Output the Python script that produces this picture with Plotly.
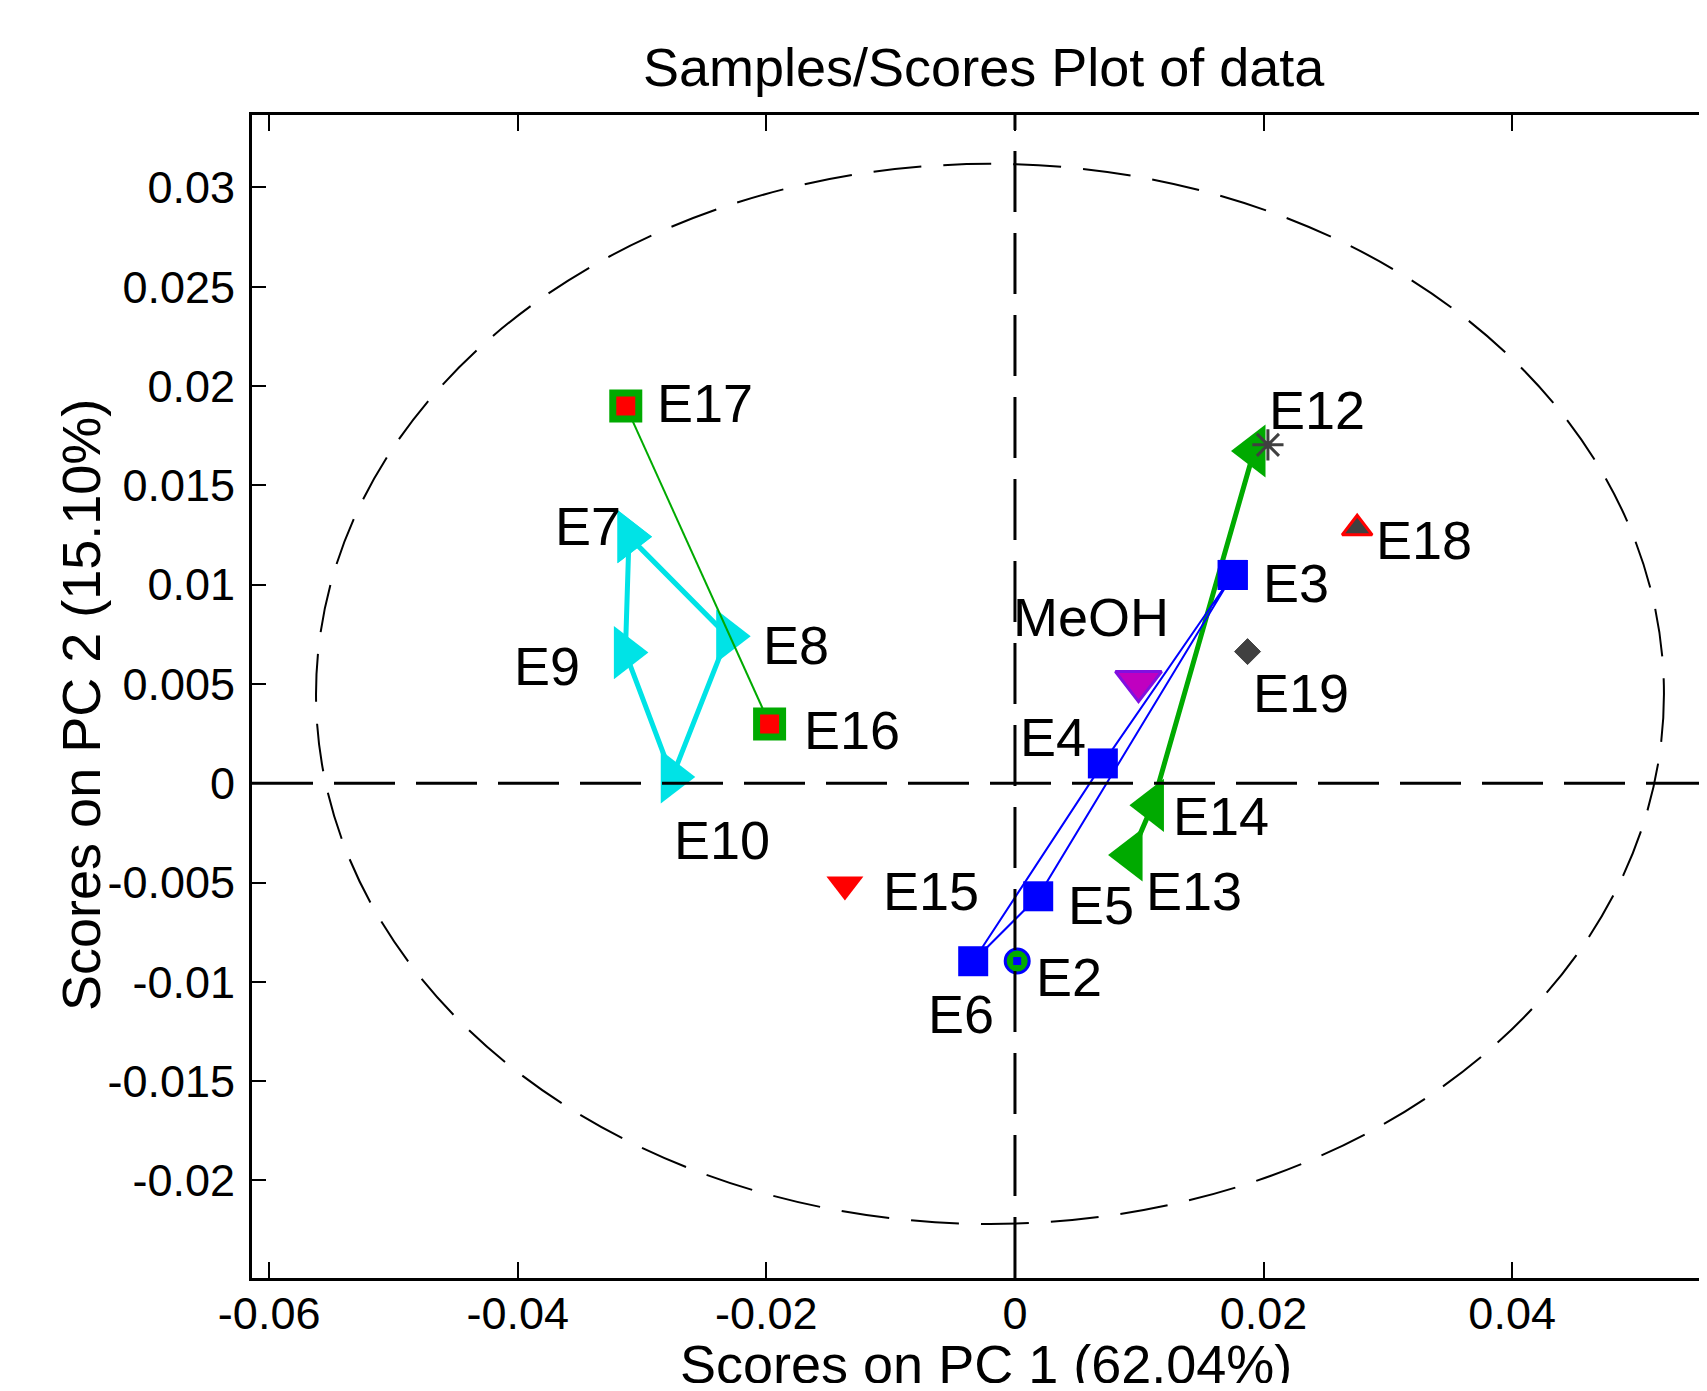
import plotly.graph_objects as go

FONT = "Liberation Sans, Arial, Helvetica, sans-serif"

# ---------------- data ----------------
cyan_names = ["E7", "E8", "E10", "E9"]
cyan_x = [-0.03105, -0.02311, -0.02757, -0.03134]
cyan_y = [0.01242, 0.00741, 0.00032, 0.00658]

green_names = ["E13", "E14", "E12"]
green_x = [0.00934, 0.01106, 0.01923]
green_y = [-0.00361, -0.00111, 0.01673]

blue_names = ["E3", "E4", "E6", "E5"]
blue_x = [0.01752, 0.00707, -0.00336, 0.00187]
blue_y = [0.01049, 0.00100, -0.00896, -0.00569]

red_names = ["E17", "E16"]
red_x = [-0.03131, -0.01974]
red_y = [0.01900, 0.00299]

e15_x, e15_y = [-0.01368], [-0.00509]
meoh_x, meoh_y = [0.00994], [0.00512]
e18_x, e18_y = [0.02753], [0.01284]
e19_x, e19_y = [0.01871], [0.00663]
e2_x, e2_y = [0.00018], [-0.00895]
star_x, star_y = [0.02035], [0.01704]

label_text = ["E17", "E7", "E8", "E9", "E16", "E10", "E15", "MeOH", "E12",
              "E18", "E3", "E19", "E4", "E14", "E13", "E5", "E2", "E6"]
label_x = [-0.02898, -0.03718, -0.02042, -0.04044, -0.01716, -0.02758, -0.01081,
           -0.00031, 0.02030, 0.02890, 0.01979, 0.01899, 0.00023, 0.01256,
           0.01041, 0.00412, 0.00157, -0.00714]
label_y = [0.01916, 0.01298, 0.00694, 0.00593, 0.00268, -0.00285, -0.00542,
           0.00837, 0.01880, 0.01227, 0.01007, 0.00455, 0.00232, -0.00165,
           -0.00542, -0.00613, -0.00975, -0.01162]

x_ticks = [-0.06, -0.04, -0.02, 0, 0.02, 0.04]
x_ticktext = ["-0.06", "-0.04", "-0.02", "0", "0.02", "0.04"]
y_ticks = [0.03, 0.025, 0.02, 0.015, 0.01, 0.005, 0, -0.005, -0.01, -0.015, -0.02]
y_ticktext = ["0.03", "0.025", "0.02", "0.015", "0.01", "0.005", "0",
              "-0.005", "-0.01", "-0.015", "-0.02"]

x_range = [-0.06138, 0.05503]
y_range = [-0.02491, 0.03365]

ellipse_cx, ellipse_cy = -0.00201, 0.0045
ellipse_rx, ellipse_ry = 0.05422, 0.02669

# ---------------- figure ----------------
CYAN = "#00E3E6"
GREEN = "#00AA00"
BLUE = "#0000FF"
RED = "#FF0000"
GRAY = "#404040"

fig = go.Figure()

fig.add_trace(go.Scatter(x=e15_x, y=e15_y, mode="markers",
                         marker=dict(symbol="triangle-down", size=32, color=RED,
                                     line=dict(width=0))))
fig.add_trace(go.Scatter(x=meoh_x, y=meoh_y, mode="markers",
                         marker=dict(symbol="triangle-down", size=40, color="#C000C0",
                                     line=dict(width=3, color="#8010E0"))))
fig.add_trace(go.Scatter(x=e18_x, y=e18_y, mode="markers",
                         marker=dict(symbol="triangle-up", size=26, color=GRAY,
                                     line=dict(width=3, color=RED))))
fig.add_trace(go.Scatter(x=e19_x, y=e19_y, mode="markers",
                         marker=dict(symbol="diamond", size=20, color=GRAY,
                                     line=dict(width=1, color=GRAY))))

# cyan closed path
fig.add_trace(go.Scatter(x=cyan_x + cyan_x[:1], y=cyan_y + cyan_y[:1],
                         mode="lines+markers",
                         line=dict(color=CYAN, width=5),
                         marker=dict(symbol="triangle-right", size=46, color=CYAN,
                                     line=dict(width=0))))
# green path
fig.add_trace(go.Scatter(x=green_x, y=green_y, mode="lines+markers",
                         line=dict(color=GREEN, width=5),
                         marker=dict(symbol="triangle-left", size=46, color=GREEN,
                                     line=dict(width=0))))
# red squares with green edge
fig.add_trace(go.Scatter(x=red_x, y=red_y, mode="lines+markers",
                         line=dict(color=GREEN, width=2),
                         marker=dict(symbol="square", size=26, color=RED,
                                     line=dict(width=7, color=GREEN))))
# blue closed path
fig.add_trace(go.Scatter(x=blue_x + blue_x[:1], y=blue_y + blue_y[:1],
                         mode="lines+markers",
                         line=dict(color=BLUE, width=2),
                         marker=dict(symbol="square", size=30, color=BLUE,
                                     line=dict(width=0))))
# E2
fig.add_trace(go.Scatter(x=e2_x, y=e2_y, mode="markers",
                         marker=dict(symbol="circle", size=24, color=GREEN,
                                     line=dict(width=3, color=BLUE))))
fig.add_trace(go.Scatter(x=e2_x, y=e2_y, mode="markers",
                         marker=dict(symbol="square", size=8, color=BLUE,
                                     line=dict(width=0))))
# gray asterisk near E12
fig.add_trace(go.Scatter(x=star_x, y=star_y, mode="markers",
                         marker=dict(symbol="asterisk-open", size=26, color=GRAY,
                                     line=dict(width=3, color=GRAY))))

# labels
for t, lx, ly in zip(label_text, label_x, label_y):
    fig.add_annotation(x=lx, y=ly, xref="x", yref="y", text=t, showarrow=False,
                       xanchor="left", yanchor="middle",
                       font=dict(family=FONT, size=54, color="black"))

# ellipse and zero lines
fig.add_shape(type="circle", xref="x", yref="y",
              x0=ellipse_cx - ellipse_rx, x1=ellipse_cx + ellipse_rx,
              y0=ellipse_cy - ellipse_ry, y1=ellipse_cy + ellipse_ry,
              line=dict(color="black", width=2, dash="48px,22px"), layer="above")
fig.add_shape(type="line", xref="x", yref="y", x0=x_range[0], x1=x_range[1], y0=0, y1=0,
              line=dict(color="black", width=3, dash="61px,21px"), layer="above")
fig.add_shape(type="line", xref="x", yref="y", x0=0, x1=0, y0=y_range[0], y1=y_range[1],
              line=dict(color="black", width=3, dash="61px,21px"), layer="above")

# titles (paper coords; plot area 1447 x 1163 px)
fig.add_annotation(x=0.5059, y=1.0415, xref="paper", yref="paper",
                   text="Samples/Scores Plot of data", showarrow=False,
                   xanchor="center", yanchor="middle",
                   font=dict(family=FONT, size=54, color="black"))
fig.add_annotation(x=0.5073, y=-0.0739, xref="paper", yref="paper",
                   text="Scores on PC 1 (62.04%)", showarrow=False,
                   xanchor="center", yanchor="middle",
                   font=dict(family=FONT, size=54, color="black"))
fig.add_annotation(x=-0.1182, y=0.4927, xref="paper", yref="paper",
                   text="Scores on PC 2 (15.10%)", showarrow=False, textangle=-90,
                   xanchor="center", yanchor="middle",
                   font=dict(family=FONT, size=54, color="black"))

# the page has an 8px body margin; the figure is sized to fit the window exactly
fig.update_layout(
    width=1691, height=1375, autosize=False,
    margin=dict(l=244, r=0, t=107, b=105, pad=0),
    paper_bgcolor="white", plot_bgcolor="white",
    showlegend=False,
    font=dict(family=FONT, color="black"),
    xaxis=dict(range=x_range, tickvals=x_ticks, ticktext=x_ticktext,
               showline=True, linewidth=3, linecolor="black", mirror="ticks",
               ticks="inside", ticklen=16, tickwidth=2, tickcolor="black",
               showgrid=False, zeroline=False, ticklabelstandoff=-6,
               tickfont=dict(family=FONT, size=45, color="black")),
    yaxis=dict(range=y_range, tickvals=y_ticks, ticktext=y_ticktext,
               showline=True, linewidth=3, linecolor="black", mirror=False,
               ticks="inside", ticklen=14, tickwidth=2, tickcolor="black",
               showgrid=False, zeroline=False, ticklabelstandoff=5,
               tickfont=dict(family=FONT, size=45, color="black")),
)

fig.write_html("out.html")
